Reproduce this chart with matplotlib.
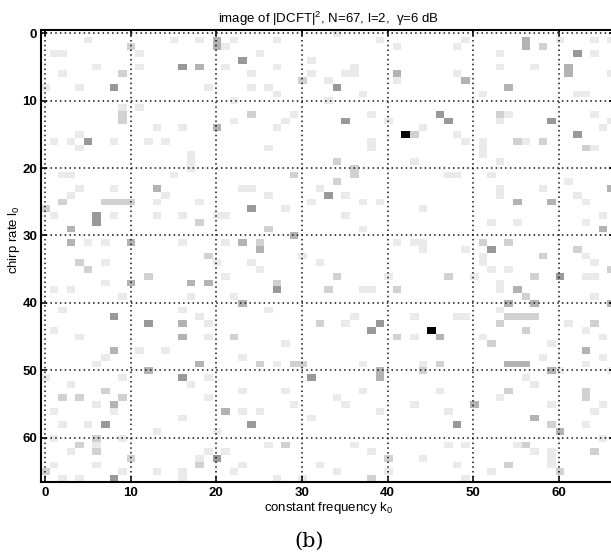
import numpy as np
import matplotlib
matplotlib.use("Agg")
import matplotlib.pyplot as plt

plt.rcParams['font.family'] = ['Liberation Sans', 'DejaVu Sans']
plt.rcParams['mathtext.fontset'] = 'custom'
plt.rcParams['mathtext.rm'] = 'Liberation Sans'
plt.rcParams['mathtext.it'] = 'Liberation Sans'
plt.rcParams['mathtext.default'] = 'regular'

N = 67
tick_values = [0, 10, 20, 30, 40, 50, 60]
title_text = r"image of |DCFT|$^{2}$, N=67, l=2,  γ=6 dB"
x_label = r"constant frequency k$_{0}$"
y_label = r"chirp rate l$_{0}$"
caption = "(b)"

# (k0, l0) cells of |DCFT|^2, grouped by grey level
peak_cells = [(42, 15), (45, 44)]
strong_cells = [(16, 5), (8, 8), (23, 4), (34, 8), (62, 3), (35, 13), (46, 12), (47, 13),
                (59, 13), (62, 15), (5, 16), (6, 27), (6, 28), (24, 26), (33, 24), (8, 42),
                (12, 43), (38, 44), (39, 43), (27, 38), (52, 32), (60, 36), (16, 51), (31, 51),
                (24, 58), (7, 58), (48, 58), (8, 66), (20, 63)]
gray_cells = [(18, 5), (20, 1), (20, 2), (20, 14), (41, 6), (13, 23), (61, 5), (61, 6),
              (56, 1), (56, 2), (49, 7), (54, 8), (3, 29), (3, 31), (10, 31), (10, 37),
              (17, 37), (19, 37), (16, 43), (16, 45), (8, 47), (18, 49), (12, 50), (8, 55),
              (21, 56), (29, 30), (23, 31), (25, 32), (23, 40), (39, 50), (39, 51), (55, 25),
              (59, 25), (66, 23), (46, 45), (55, 38), (65, 29), (54, 40), (57, 40), (54, 49),
              (55, 49), (56, 49), (59, 50), (66, 40), (50, 55), (57, 57), (63, 47), (60, 59)]
mid_cells = [(9, 6), (10, 2), (9, 12), (9, 13), (30, 7), (24, 12), (34, 22), (29, 21),
             (36, 20), (36, 21), (34, 19), (43, 15), (2, 25), (0, 26), (7, 25), (8, 25),
             (9, 25), (10, 25), (58, 2), (55, 16), (58, 16), (63, 17), (53, 12), (18, 28),
             (19, 33), (4, 34), (5, 35), (12, 36), (7, 53), (2, 54), (4, 54), (9, 54),
             (22, 45), (25, 31), (27, 37), (26, 29), (34, 36), (33, 38), (41, 38), (32, 43),
             (41, 45), (25, 49), (29, 49), (30, 49), (47, 36), (51, 31), (54, 31), (57, 36),
             (58, 33), (62, 32), (66, 35), (56, 39), (54, 42), (55, 42), (56, 42), (57, 42),
             (53, 43), (56, 44), (52, 46), (64, 43), (46, 49), (44, 50), (54, 53), (63, 53),
             (63, 54), (6, 60), (4, 61), (6, 62), (10, 63), (0, 65), (18, 64), (28, 61),
             (38, 66), (40, 63), (59, 58), (56, 61), (54, 64), (60, 65), (64, 62)]
pale_cells = [(1, 3), (2, 3), (0, 8), (5, 1), (11, 5), (2, 6), (4, 8), (6, 5), (11, 11),
              (21, 5), (19, 8), (15, 1), (18, 1), (11, 3), (9, 11), (13, 14), (16, 14),
              (3, 16), (4, 15), (1, 16), (12, 16), (14, 16), (8, 16), (4, 17), (17, 18),
              (17, 19), (17, 20), (2, 21), (3, 21), (15, 21), (4, 23), (8, 23), (14, 24),
              (3, 24), (13, 25), (18, 25), (20, 27), (22, 1), (25, 3), (21, 2), (24, 6),
              (27, 5), (27, 1), (24, 8), (26, 8), (27, 9), (31, 4), (31, 6), (33, 7),
              (35, 6), (36, 6), (36, 5), (39, 1), (37, 9), (34, 0), (41, 2), (41, 7),
              (28, 13), (27, 14), (29, 12), (22, 13), (33, 10), (22, 10), (38, 12), (40, 13),
              (26, 17), (38, 17), (38, 16), (23, 23), (24, 23), (26, 24), (35, 24), (32, 23),
              (28, 26), (43, 19), (58, 23), (62, 9), (63, 9), (64, 1), (64, 3), (60, 1),
              (66, 1), (49, 1), (48, 2), (48, 6), (53, 5), (57, 5), (51, 9), (53, 3),
              (44, 14), (48, 15), (49, 16), (54, 12), (53, 13), (56, 16), (51, 16), (51, 17),
              (51, 18), (53, 19), (64, 17), (64, 12), (66, 13), (65, 14), (61, 22), (62, 24),
              (63, 25), (52, 21), (53, 23), (53, 24), (47, 21), (48, 21), (44, 26), (65, 27),
              (66, 6), (8, 27), (1, 27), (13, 27), (16, 27), (21, 27), (5, 31), (7, 31),
              (16, 31), (20, 34), (7, 34), (7, 37), (21, 36), (1, 38), (3, 38), (9, 39),
              (17, 39), (2, 41), (16, 41), (18, 42), (19, 43), (19, 45), (4, 45), (1, 44),
              (11, 47), (14, 47), (7, 48), (6, 49), (0, 51), (9, 51), (17, 52), (19, 51),
              (3, 52), (6, 55), (19, 54), (8, 56), (16, 57), (5, 58), (2, 58), (1, 56),
              (31, 25), (37, 25), (39, 25), (35, 27), (37, 29), (21, 31), (24, 34), (25, 35),
              (30, 33), (32, 34), (37, 38), (38, 38), (40, 36), (41, 31), (43, 31), (22, 39),
              (26, 41), (36, 42), (35, 43), (43, 42), (28, 46), (43, 45), (23, 48), (27, 49),
              (37, 49), (23, 53), (28, 53), (34, 54), (37, 53), (35, 55), (29, 55), (23, 56),
              (25, 56), (43, 55), (31, 57), (39, 56), (44, 32), (49, 32), (51, 33), (51, 34),
              (52, 35), (54, 35), (50, 36), (53, 37), (53, 38), (63, 33), (64, 34), (63, 36),
              (64, 36), (64, 39), (63, 28), (55, 28), (52, 28), (44, 31), (53, 41), (48, 42),
              (49, 42), (61, 43), (63, 44), (65, 45), (65, 48), (58, 48), (59, 46), (51, 45),
              (44, 49), (60, 50), (63, 49), (66, 50), (56, 51), (57, 52), (53, 54), (59, 55),
              (65, 55), (64, 56), (47, 56), (46, 53), (6, 61), (3, 62), (1, 64), (6, 64),
              (9, 65), (9, 60), (1, 60), (2, 66), (4, 66), (13, 65), (13, 59), (16, 66),
              (16, 65), (18, 63), (21, 62), (19, 62), (20, 59), (26, 61), (23, 64), (22, 65),
              (32, 64), (34, 65), (30, 66), (27, 66), (38, 62), (40, 65), (36, 61), (44, 63),
              (47, 61), (49, 61), (55, 61), (59, 62), (59, 63), (59, 64), (52, 65), (65, 60),
              (63, 58), (49, 66), (48, 64), (57, 62)]

levels = {"peak": 1.0, "strong": 0.40, "gray": 0.30, "mid": 0.18, "pale": 0.085}
groups = [("pale", pale_cells), ("mid", mid_cells), ("gray", gray_cells),
          ("strong", strong_cells), ("peak", peak_cells)]

Z = np.zeros((N, N))
for name, cells in groups:
    for k, l in cells:
        Z[l, k] = max(Z[l, k], levels[name])

fig = plt.figure(figsize=(6.11, 5.57), dpi=100)
ax = fig.add_axes([0.0666, 0.1355, 0.9395, 0.8108])
ax.imshow(Z, cmap='gray_r', vmin=0, vmax=1, aspect='auto', interpolation='nearest',
          origin='upper')
ax.set_xlim(-0.5, N - 0.5)
ax.set_ylim(N - 0.5, -0.5)
ax.set_xticks(tick_values)
ax.set_yticks(tick_values)
ax.set_axisbelow(False)
ax.grid(True, color='#111111', linestyle=(0, (1, 2.1)), linewidth=1.1)
ax.tick_params(direction='in', length=4.3, width=1.1, top=True, right=True,
               labelsize=9.5, colors='black')
ax.tick_params(axis='x', pad=4.3)
ax.tick_params(axis='y', pad=2.5)
for lab in ax.get_xticklabels() + ax.get_yticklabels():
    lab.set_fontweight('bold')
for sp in ax.spines.values():
    sp.set_linewidth(1.5)

fig.text(329 / 611, 1 - 19 / 557, title_text, ha='center', va='center', fontsize=9.5)
fig.text(329 / 611, 1 - 508 / 557, x_label, ha='center', va='center', fontsize=9.5)
fig.text(14 / 611, 1 - 240 / 557, y_label, ha='center', va='center', fontsize=9.5,
         rotation=90)
fig.text(309 / 611, 1 - 541 / 557, caption, ha='center', va='center', fontsize=15,
         family='DejaVu Serif')

fig.savefig('out.png', dpi=100)
